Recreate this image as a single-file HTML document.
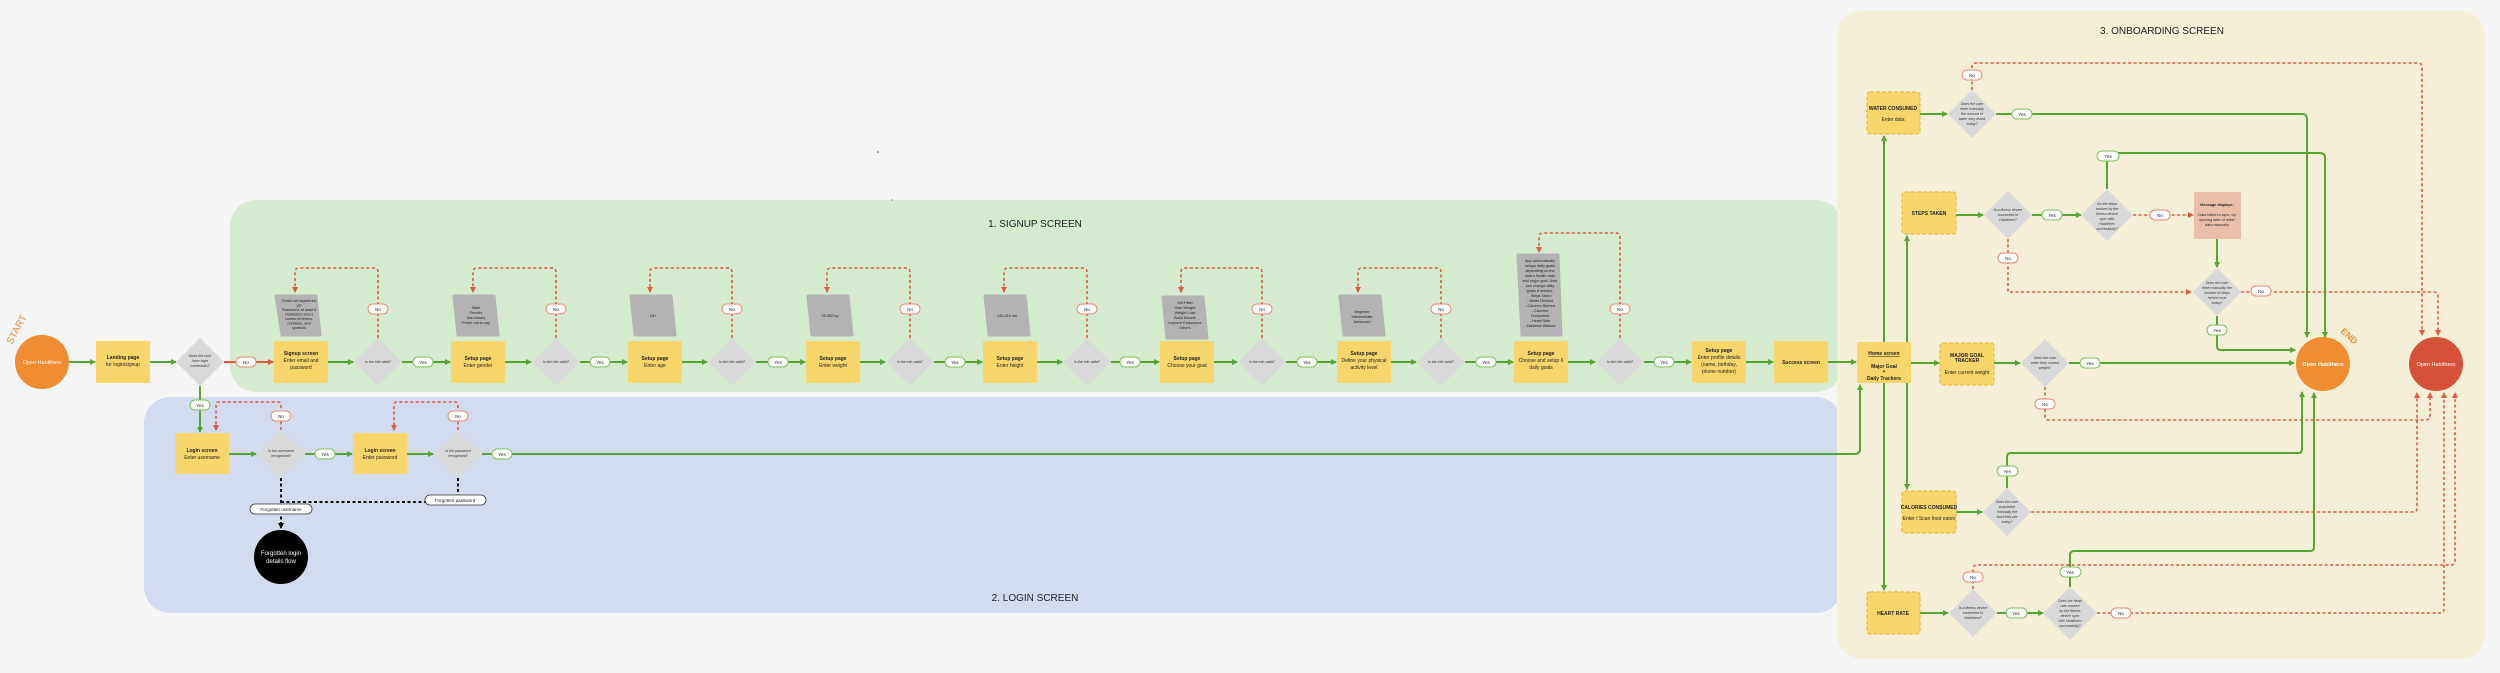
<!DOCTYPE html>
<html><head><meta charset="utf-8"><style>
html,body{margin:0;padding:0;background:#f5f5f5;}
svg{display:block;font-family:"Liberation Sans",sans-serif;}
.bt{font-size:5px;fill:#222;text-anchor:middle;}
.bb{font-weight:bold;}
.dt{font-size:3.6px;fill:#333;text-anchor:middle;font-style:italic;}
.pt{font-size:3.8px;fill:#222;text-anchor:middle;}
.lt{font-size:4.6px;fill:#222;text-anchor:middle;}
.g{stroke:#55a630;stroke-width:2;fill:none;}
.r{stroke:#e05a3f;stroke-width:1.6;fill:none;stroke-dasharray:3 2.5;}
.k{stroke:#111;stroke-width:2;fill:none;stroke-dasharray:3 2.5;}
.box{fill:#f9d66b;}
.dbox{fill:#f9d66b;stroke:#e6b84a;stroke-width:1.2;stroke-dasharray:4 2;}
.dia{fill:#d9d9d9;}
.para{fill:#b3b3b3;stroke:#b3b3b3;stroke-width:3;stroke-linejoin:round;}
.py{fill:#fff;stroke:#7cbf5a;stroke-width:1;}
.pn{fill:#fff;stroke:#e8866f;stroke-width:1;}
</style></head><body>
<svg width="2500" height="673" viewBox="0 0 2500 673" xmlns="http://www.w3.org/2000/svg">
<defs>
<marker id="ag" markerWidth="6" markerHeight="6" refX="5" refY="3" orient="auto" markerUnits="userSpaceOnUse"><path d="M0,0 L6,3 L0,6z" fill="#55a630"/></marker>
<marker id="ar" markerWidth="6" markerHeight="6" refX="5" refY="3" orient="auto" markerUnits="userSpaceOnUse"><path d="M0,0 L6,3 L0,6z" fill="#e05a3f"/></marker>
<marker id="ak" markerWidth="6" markerHeight="6" refX="5" refY="3" orient="auto" markerUnits="userSpaceOnUse"><path d="M0,0 L6,3 L0,6z" fill="#111"/></marker>
</defs>
<rect width="2500" height="673" fill="#f5f5f5"/>
<!-- regions -->
<rect x="230" y="200" width="1612" height="192" rx="26" fill="#d4ebd0"/>
<rect x="144" y="397" width="1698" height="216" rx="26" fill="#d3dbef"/>
<rect x="1837" y="11" width="648" height="648" rx="24" fill="#f6efd8"/>
<text x="1035" y="227" font-size="10" text-anchor="middle" fill="#222">1. SIGNUP SCREEN</text>
<text x="1035" y="601" font-size="10" text-anchor="middle" fill="#222">2. LOGIN SCREEN</text>
<text x="2162" y="34" font-size="10" text-anchor="middle" fill="#222">3. ONBOARDING SCREEN</text>
<circle cx="878" cy="152" r="0.8" fill="#555"/>
<circle cx="892" cy="200" r="0.8" fill="#e05a3f"/>

<!-- start -->
<text x="12" y="345" font-size="10" fill="#f08c32" transform="rotate(-62 12 345)">START</text>
<circle cx="42" cy="362" r="27" fill="#f08c32"/>
<text x="42" y="364" font-size="5.5" fill="#fff" text-anchor="middle">Open Habithero</text>
<line class="g" x1="69" y1="362" x2="95" y2="362" marker-end="url(#ag)"/>
<rect class="box" x="96" y="341" width="54" height="42"/>
<text class="bt bb" x="123" y="359">Landing page</text><text class="bt" x="123" y="366">for login/signup</text>
<line class="g" x1="150" y1="362" x2="176" y2="362" marker-end="url(#ag)"/>
<polygon class="dia" points="200,338 224,362 200,386 176,362"/>
<text class="dt" x="200" y="357">Does the user</text><text class="dt" x="200" y="362">have login</text><text class="dt" x="200" y="367">credentials?</text>
<line x1="224" y1="362" x2="273" y2="362" stroke="#e05a3f" stroke-width="2" marker-end="url(#ar)"/>
<rect class="pn" x="236" y="357" width="20" height="10" rx="5"/><text class="lt" x="246" y="364">No</text>

<!-- signup boxes -->
<g>
<rect class="box" x="274" y="341" width="54" height="42"/>
<text class="bt bb" x="301" y="355">Signup screen</text><text class="bt" x="301" y="362">Enter email and</text><text class="bt" x="301" y="369">password</text>
<rect class="box" x="451" y="341" width="54" height="42"/>
<text class="bt bb" x="478" y="360">Setup page</text><text class="bt" x="478" y="367">Enter gender</text>
<rect class="box" x="628" y="341" width="54" height="42"/>
<text class="bt bb" x="655" y="360">Setup page</text><text class="bt" x="655" y="367">Enter age</text>
<rect class="box" x="806" y="341" width="54" height="42"/>
<text class="bt bb" x="833" y="360">Setup page</text><text class="bt" x="833" y="367">Enter weight</text>
<rect class="box" x="983" y="341" width="54" height="42"/>
<text class="bt bb" x="1010" y="360">Setup page</text><text class="bt" x="1010" y="367">Enter height</text>
<rect class="box" x="1160" y="341" width="54" height="42"/>
<text class="bt bb" x="1187" y="360">Setup page</text><text class="bt" x="1187" y="367">Choose your goal</text>
<rect class="box" x="1337" y="341" width="54" height="42"/>
<text class="bt bb" x="1364" y="355">Setup page</text><text class="bt" x="1364" y="362">Define your physical</text><text class="bt" x="1364" y="369">activity level</text>
<rect class="box" x="1514" y="341" width="54" height="42"/>
<text class="bt bb" x="1541" y="355">Setup page</text><text class="bt" x="1541" y="362">Choose and setup 6</text><text class="bt" x="1541" y="369">daily goals</text>
<rect class="box" x="1692" y="341" width="54" height="42"/>
<text class="bt bb" x="1719" y="352">Setup page</text><text class="bt" x="1719" y="359">Enter profile details</text><text class="bt" x="1719" y="366">(name, birthday,</text><text class="bt" x="1719" y="373">phone number)</text>
<rect class="box" x="1774" y="341" width="54" height="42"/>
<text class="bt bb" x="1801" y="364">Success screen</text>
</g>

<!-- diamonds + yes -->
<g>
<polygon class="dia" points="378,338 402,362 378,386 354,362"/><text class="dt" x="378" y="363">Is the info valid?</text>
<polygon class="dia" points="556,338 580,362 556,386 532,362"/><text class="dt" x="556" y="363">Is the info valid?</text>
<polygon class="dia" points="732,338 756,362 732,386 708,362"/><text class="dt" x="732" y="363">Is the info valid?</text>
<polygon class="dia" points="910,338 934,362 910,386 886,362"/><text class="dt" x="910" y="363">Is the info valid?</text>
<polygon class="dia" points="1087,338 1111,362 1087,386 1063,362"/><text class="dt" x="1087" y="363">Is the info valid?</text>
<polygon class="dia" points="1262,338 1286,362 1262,386 1238,362"/><text class="dt" x="1262" y="363">Is the info valid?</text>
<polygon class="dia" points="1441,338 1465,362 1441,386 1417,362"/><text class="dt" x="1441" y="363">Is the info valid?</text>
<polygon class="dia" points="1620,338 1644,362 1620,386 1596,362"/><text class="dt" x="1620" y="363">Is the info valid?</text>
</g>
<g>
<line class="g" x1="328" y1="362" x2="353" y2="362" marker-end="url(#ag)"/><line class="g" x1="402" y1="362" x2="450" y2="362" marker-end="url(#ag)"/>
<line class="g" x1="505" y1="362" x2="531" y2="362" marker-end="url(#ag)"/><line class="g" x1="580" y1="362" x2="627" y2="362" marker-end="url(#ag)"/>
<line class="g" x1="682" y1="362" x2="707" y2="362" marker-end="url(#ag)"/><line class="g" x1="756" y1="362" x2="805" y2="362" marker-end="url(#ag)"/>
<line class="g" x1="860" y1="362" x2="885" y2="362" marker-end="url(#ag)"/><line class="g" x1="934" y1="362" x2="982" y2="362" marker-end="url(#ag)"/>
<line class="g" x1="1037" y1="362" x2="1062" y2="362" marker-end="url(#ag)"/><line class="g" x1="1111" y1="362" x2="1159" y2="362" marker-end="url(#ag)"/>
<line class="g" x1="1214" y1="362" x2="1237" y2="362" marker-end="url(#ag)"/><line class="g" x1="1286" y1="362" x2="1336" y2="362" marker-end="url(#ag)"/>
<line class="g" x1="1391" y1="362" x2="1416" y2="362" marker-end="url(#ag)"/><line class="g" x1="1465" y1="362" x2="1513" y2="362" marker-end="url(#ag)"/>
<line class="g" x1="1568" y1="362" x2="1595" y2="362" marker-end="url(#ag)"/><line class="g" x1="1644" y1="362" x2="1691" y2="362" marker-end="url(#ag)"/>
<line class="g" x1="1746" y1="362" x2="1773" y2="362" marker-end="url(#ag)"/><line class="g" x1="1828" y1="362" x2="1856" y2="362" marker-end="url(#ag)"/>
</g>
<g>
<rect class="py" x="413" y="357" width="20" height="10" rx="5"/><text class="lt" x="423" y="364">Yes</text>
<rect class="py" x="590" y="357" width="20" height="10" rx="5"/><text class="lt" x="600" y="364">Yes</text>
<rect class="py" x="768" y="357" width="20" height="10" rx="5"/><text class="lt" x="778" y="364">Yes</text>
<rect class="py" x="945" y="357" width="20" height="10" rx="5"/><text class="lt" x="955" y="364">Yes</text>
<rect class="py" x="1120" y="357" width="20" height="10" rx="5"/><text class="lt" x="1130" y="364">Yes</text>
<rect class="py" x="1297" y="357" width="20" height="10" rx="5"/><text class="lt" x="1307" y="364">Yes</text>
<rect class="py" x="1476" y="357" width="20" height="10" rx="5"/><text class="lt" x="1486" y="364">Yes</text>
<rect class="py" x="1654" y="357" width="20" height="10" rx="5"/><text class="lt" x="1664" y="364">Yes</text>
</g>

<!-- loops -->
<g>
<path class="r" d="M378,338 V272 Q378,268 374,268 H299 Q295,268 295,272 V292" marker-end="url(#ar)"/>
<path class="r" d="M556,338 V272 Q556,268 552,268 H477 Q473,268 473,272 V292" marker-end="url(#ar)"/>
<path class="r" d="M732,338 V272 Q732,268 728,268 H654 Q650,268 650,272 V292" marker-end="url(#ar)"/>
<path class="r" d="M910,338 V272 Q910,268 906,268 H831 Q827,268 827,272 V292" marker-end="url(#ar)"/>
<path class="r" d="M1087,338 V272 Q1087,268 1083,268 H1008 Q1004,268 1004,272 V292" marker-end="url(#ar)"/>
<path class="r" d="M1262,338 V272 Q1262,268 1258,268 H1185 Q1181,268 1181,272 V292" marker-end="url(#ar)"/>
<path class="r" d="M1441,338 V272 Q1441,268 1437,268 H1362 Q1358,268 1358,272 V292" marker-end="url(#ar)"/>
<path class="r" d="M1620,338 V237 Q1620,233 1616,233 H1543 Q1539,233 1539,237 V252" marker-end="url(#ar)"/>
</g>
<g>
<rect class="pn" x="368" y="304" width="20" height="10" rx="5"/><text class="lt" x="378" y="311">No</text>
<rect class="pn" x="546" y="304" width="20" height="10" rx="5"/><text class="lt" x="556" y="311">No</text>
<rect class="pn" x="722" y="304" width="20" height="10" rx="5"/><text class="lt" x="732" y="311">No</text>
<rect class="pn" x="900" y="304" width="20" height="10" rx="5"/><text class="lt" x="910" y="311">No</text>
<rect class="pn" x="1077" y="304" width="20" height="10" rx="5"/><text class="lt" x="1087" y="311">No</text>
<rect class="pn" x="1252" y="304" width="20" height="10" rx="5"/><text class="lt" x="1262" y="311">No</text>
<rect class="pn" x="1431" y="304" width="20" height="10" rx="5"/><text class="lt" x="1441" y="311">No</text>
<rect class="pn" x="1610" y="304" width="20" height="10" rx="5"/><text class="lt" x="1620" y="311">No</text>
</g>
<!-- parallelograms -->
<g>
<polygon class="para" points="276,296 316,296 320,335 282,335"/>
<text class="pt" x="299" y="302">Email not registered</text><text class="pt" x="299" y="306.5">yet</text><text class="pt" x="299" y="311">Password: at least 8</text><text class="pt" x="299" y="315.5">characters and a</text><text class="pt" x="299" y="320">combo of letters,</text><text class="pt" x="299" y="324.5">numbers, and</text><text class="pt" x="299" y="329">symbols</text>
<polygon class="para" points="454,296 494,296 498,335 458,335"/>
<text class="pt" x="476" y="309">Male</text><text class="pt" x="476" y="314">Female</text><text class="pt" x="476" y="319">Non-binary</text><text class="pt" x="476" y="324">Prefer not to say</text>
<polygon class="para" points="631,296 671,296 675,335 635,335"/><text class="pt" x="653" y="317">18+</text>
<polygon class="para" points="808,296 848,296 852,335 812,335"/><text class="pt" x="830" y="317">35-300 kg</text>
<polygon class="para" points="985,296 1025,296 1029,335 989,335"/><text class="pt" x="1007" y="317">140-210 cm</text>
<polygon class="para" points="1163,297 1203,297 1207,338 1167,338"/>
<text class="pt" x="1185" y="304">Get Fitter</text><text class="pt" x="1185" y="309">Gain Weight</text><text class="pt" x="1185" y="314">Weight Loss</text><text class="pt" x="1185" y="319">Build Muscle</text><text class="pt" x="1185" y="324">Improve Endurance</text><text class="pt" x="1185" y="329">Others</text>
<polygon class="para" points="1340,296 1380,296 1384,335 1344,335"/>
<text class="pt" x="1362" y="313">Beginner</text><text class="pt" x="1362" y="318">Intermediate</text><text class="pt" x="1362" y="323">Advanced</text>
<polygon class="para" points="1518,255 1558,255 1561,335 1522,335"/>
<text class="pt" x="1540" y="262">App automatically</text><text class="pt" x="1540" y="267">setups daily goals</text><text class="pt" x="1540" y="272">depending on the</text><text class="pt" x="1540" y="277">user's health data</text><text class="pt" x="1540" y="282">and major goal. User</text><text class="pt" x="1540" y="287">can change daily</text><text class="pt" x="1540" y="292">goals if needed.</text><text class="pt" x="1540" y="297">- Steps Taken</text><text class="pt" x="1540" y="302">- Water Drinked</text><text class="pt" x="1540" y="307">- Calories Burned</text><text class="pt" x="1540" y="312">- Calories</text><text class="pt" x="1540" y="317">Consumed</text><text class="pt" x="1540" y="322">- Heart Rate</text><text class="pt" x="1540" y="327">- Distance Walked</text>
</g>

<!-- login -->
<line class="g" x1="200" y1="386" x2="200" y2="432" marker-end="url(#ag)"/>
<rect class="py" x="190" y="400" width="20" height="10" rx="5"/><text class="lt" x="200" y="407">Yes</text>
<rect class="box" x="175" y="433" width="54" height="41"/>
<text class="bt bb" x="202" y="452">Login screen</text><text class="bt" x="202" y="459">Enter username</text>
<line class="g" x1="229" y1="454" x2="256" y2="454" marker-end="url(#ag)"/>
<polygon class="dia" points="281,430 305,454 281,478 257,454"/>
<text class="dt" x="281" y="452">Is the username</text><text class="dt" x="281" y="457">recognised?</text>
<path class="r" d="M281,430 V405 Q281,402 278,402 H219 Q216,402 216,405 V430" marker-end="url(#ar)"/>
<rect class="pn" x="271" y="411" width="20" height="10" rx="5"/><text class="lt" x="281" y="418">No</text>
<line class="g" x1="305" y1="454" x2="352" y2="454" marker-end="url(#ag)"/>
<rect class="py" x="315" y="449" width="20" height="10" rx="5"/><text class="lt" x="325" y="456">Yes</text>
<rect class="box" x="353" y="433" width="54" height="41"/>
<text class="bt bb" x="380" y="452">Login screen</text><text class="bt" x="380" y="459">Enter password</text>
<line class="g" x1="407" y1="454" x2="433" y2="454" marker-end="url(#ag)"/>
<polygon class="dia" points="458,430 482,454 458,478 434,454"/>
<text class="dt" x="458" y="452">Is the password</text><text class="dt" x="458" y="457">recognised?</text>
<path class="r" d="M458,430 V405 Q458,402 455,402 H397 Q394,402 394,405 V430" marker-end="url(#ar)"/>
<rect class="pn" x="448" y="411" width="20" height="10" rx="5"/><text class="lt" x="458" y="418">No</text>
<path class="g" d="M482,454 H1855 Q1860,454 1860,449 V385" marker-end="url(#ag)"/>
<rect class="py" x="492" y="449" width="20" height="10" rx="5"/><text class="lt" x="502" y="456">Yes</text>
<path class="k" d="M458,478 V502 H281"/>
<path class="k" d="M281,478 V528" marker-end="url(#ak)"/>
<rect x="250" y="504" width="62" height="10" rx="5" fill="#fff" stroke="#333" stroke-width="0.8"/><text class="lt" x="281" y="511">Forgotten username</text>
<rect x="425" y="495" width="61" height="10" rx="5" fill="#fff" stroke="#333" stroke-width="0.8"/><text class="lt" x="455" y="502">Forgotten password</text>
<ellipse cx="281" cy="557" rx="27" ry="27" fill="#000"/>
<text x="281" y="555" font-size="6" fill="#fff" text-anchor="middle">Forgotten login</text><text x="281" y="563" font-size="6" fill="#fff" text-anchor="middle">details flow</text>

<!-- onboarding -->
<rect class="box" x="1857" y="342" width="54" height="41"/>
<text class="bt bb" x="1884" y="355" text-decoration="underline">Home screen</text><text class="bt bb" x="1884" y="368">Major Goal</text><text class="bt bb" x="1884" y="373">+</text><text class="bt bb" x="1884" y="380">Daily Trackers</text>
<line class="g" x1="1884" y1="342" x2="1884" y2="136" marker-end="url(#ag)"/>
<line class="g" x1="1884" y1="383" x2="1884" y2="590" marker-end="url(#ag)"/>
<line class="g" x1="1907" y1="342" x2="1907" y2="236" marker-end="url(#ag)"/>
<line class="g" x1="1907" y1="383" x2="1907" y2="489" marker-end="url(#ag)"/>
<line class="g" x1="1911" y1="363" x2="1939" y2="363" marker-end="url(#ag)"/>

<!-- water -->
<rect class="dbox" x="1867" y="92" width="53" height="42" rx="3"/>
<text class="bt bb" x="1893" y="110" font-size="4.2">WATER CONSUMED</text><text class="bt" x="1893" y="121" font-size="4.2">Enter data</text>
<line class="g" x1="1920" y1="114" x2="1947" y2="114" marker-end="url(#ag)"/>
<polygon class="dia" points="1972,90 1996,114 1972,138 1948,114"/>
<text class="dt" x="1972" y="105">Does the user</text><text class="dt" x="1972" y="110">enter manually</text><text class="dt" x="1972" y="115">the amount of</text><text class="dt" x="1972" y="120">water they drank</text><text class="dt" x="1972" y="125">today?</text>
<path class="g" d="M1996,114 H2302 Q2307,114 2307,119 V337" marker-end="url(#ag)"/>
<rect class="py" x="2012" y="109" width="20" height="10" rx="5"/><text class="lt" x="2022" y="116">Yes</text>
<path class="r" d="M1972,90 V67 Q1972,63 1976,63 H2418 Q2422,63 2422,67 V335" marker-end="url(#ar)"/>
<rect class="pn" x="1962" y="70" width="20" height="10" rx="5"/><text class="lt" x="1972" y="77">No</text>

<!-- steps -->
<rect class="dbox" x="1902" y="192" width="54" height="42" rx="3"/>
<text class="bt bb" x="1929" y="215" font-size="4.2">STEPS TAKEN</text>
<line class="g" x1="1956" y1="215" x2="1983" y2="215" marker-end="url(#ag)"/>
<polygon class="dia" points="2008,191 2032,215 2008,239 1984,215"/>
<text class="dt" x="2008" y="211">Is a fitness device</text><text class="dt" x="2008" y="216">connected to</text><text class="dt" x="2008" y="221">Habithero?</text>
<line class="g" x1="2032" y1="215" x2="2081" y2="215" marker-end="url(#ag)"/>
<rect class="py" x="2042" y="210" width="20" height="10" rx="5"/><text class="lt" x="2052" y="217">Yes</text>
<polygon class="dia" points="2107,189 2133,215 2107,241 2081,215"/>
<text class="dt" x="2107" y="205">Do the steps</text><text class="dt" x="2107" y="210">tracked by the</text><text class="dt" x="2107" y="215">fitness device</text><text class="dt" x="2107" y="220">sync with</text><text class="dt" x="2107" y="225">Habithero</text><text class="dt" x="2107" y="230">successfully?</text>
<path class="g" d="M2107,189 V153 H2320 Q2325,153 2325,158 V337" marker-end="url(#ag)"/>
<rect class="py" x="2097" y="151" width="22" height="10" rx="5"/><text class="lt" x="2108" y="158">Yes</text>
<path class="r" d="M2133,215 H2193" marker-end="url(#ar)"/>
<rect class="pn" x="2150" y="210" width="20" height="10" rx="5"/><text class="lt" x="2160" y="217">No</text>
<rect x="2194" y="192" width="47" height="47" fill="#ebbea8"/>
<text class="pt bb" x="2217" y="206">Message displays:</text><text class="pt" x="2217" y="216">Data failed to sync, try</text><text class="pt" x="2217" y="221">syncing later or enter</text><text class="pt" x="2217" y="226">data manually</text>
<line class="g" x1="2217" y1="239" x2="2217" y2="267" marker-end="url(#ag)"/>
<polygon class="dia" points="2217,268 2241,292 2217,316 2193,292"/>
<text class="dt" x="2217" y="284">Does the user</text><text class="dt" x="2217" y="289">enter manually the</text><text class="dt" x="2217" y="294">number of steps</text><text class="dt" x="2217" y="299">he/she took</text><text class="dt" x="2217" y="304">today?</text>
<path class="r" d="M2008,239 V292 H2191" marker-end="url(#ar)"/>
<rect class="pn" x="1998" y="253" width="20" height="10" rx="5"/><text class="lt" x="2008" y="260">No</text>
<path class="r" d="M2241,292 H2434 Q2438,292 2438,296 V335" marker-end="url(#ar)"/>
<rect class="pn" x="2251" y="286" width="20" height="10" rx="5"/><text class="lt" x="2261" y="293">No</text>
<path class="g" d="M2217,316 V346 Q2217,350 2221,350 H2295" marker-end="url(#ag)"/>
<rect class="py" x="2207" y="325" width="20" height="10" rx="5"/><text class="lt" x="2217" y="332">Yes</text>

<!-- major goal -->
<rect class="dbox" x="1940" y="343" width="54" height="42" rx="3"/>
<text class="bt bb" x="1967" y="357" font-size="4.2">MAJOR GOAL</text><text class="bt bb" x="1967" y="362" font-size="4.2">TRACKER</text><text class="bt" x="1967" y="374" font-size="4.2">Enter current weight</text>
<line class="g" x1="1994" y1="363" x2="2020" y2="363" marker-end="url(#ag)"/>
<polygon class="dia" points="2045,339 2069,363 2045,387 2021,363"/>
<text class="dt" x="2045" y="359">Does the user</text><text class="dt" x="2045" y="364">enter their current</text><text class="dt" x="2045" y="369">weight?</text>
<line class="g" x1="2069" y1="363" x2="2294" y2="363" marker-end="url(#ag)"/>
<rect class="py" x="2080" y="358" width="20" height="10" rx="5"/><text class="lt" x="2090" y="365">Yes</text>
<path class="r" d="M2045,387 V416 Q2045,420 2049,420 H2426 Q2430,420 2430,416 V393" marker-end="url(#ar)"/>
<rect class="pn" x="2035" y="399" width="20" height="10" rx="5"/><text class="lt" x="2045" y="406">No</text>

<!-- calories -->
<rect class="dbox" x="1902" y="491" width="54" height="42" rx="3"/>
<text class="bt bb" x="1929" y="509" font-size="4.2">CALORIES CONSUMED</text><text class="bt" x="1929" y="520" font-size="4.2">Enter / Scan food eaten</text>
<line class="g" x1="1956" y1="512" x2="1982" y2="512" marker-end="url(#ag)"/>
<polygon class="dia" points="2007,488 2031,512 2007,536 1983,512"/>
<text class="dt" x="2007" y="503">Does the user</text><text class="dt" x="2007" y="508">scan/enter</text><text class="dt" x="2007" y="513">manually the</text><text class="dt" x="2007" y="518">food they ate</text><text class="dt" x="2007" y="523">today?</text>
<path class="g" d="M2007,488 V457 Q2007,453 2011,453 H2298 Q2302,453 2302,449 V392" marker-end="url(#ag)"/>
<rect class="py" x="1997" y="466" width="21" height="10" rx="5"/><text class="lt" x="2007" y="473">Yes</text>
<path class="r" d="M2031,512 H2413 Q2417,512 2417,508 V393" marker-end="url(#ar)"/>

<!-- heart rate -->
<rect class="dbox" x="1867" y="592" width="53" height="42" rx="3"/>
<text class="bt bb" x="1893" y="615" font-size="4.2">HEART RATE</text>
<line class="g" x1="1920" y1="613" x2="1948" y2="613" marker-end="url(#ag)"/>
<polygon class="dia" points="1973,589 1997,613 1973,637 1949,613"/>
<text class="dt" x="1973" y="609">Is a fitness device</text><text class="dt" x="1973" y="614">connected to</text><text class="dt" x="1973" y="619">Habithero?</text>
<line class="g" x1="1997" y1="613" x2="2043" y2="613" marker-end="url(#ag)"/>
<rect class="py" x="2006" y="608" width="21" height="10" rx="5"/><text class="lt" x="2016" y="615">Yes</text>
<polygon class="dia" points="2070,587 2097,613 2070,640 2043,613"/>
<text class="dt" x="2070" y="602">Does the heart</text><text class="dt" x="2070" y="607">rate tracked</text><text class="dt" x="2070" y="612">by the fitness</text><text class="dt" x="2070" y="617">device sync</text><text class="dt" x="2070" y="622">with Habithero</text><text class="dt" x="2070" y="627">successfully?</text>
<path class="g" d="M2070,587 V555 Q2070,551 2074,551 H2310 Q2314,551 2314,547 V393" marker-end="url(#ag)"/>
<rect class="py" x="2060" y="567" width="21" height="10" rx="5"/><text class="lt" x="2070" y="574">Yes</text>
<path class="r" d="M1973,589 V569 Q1973,565 1977,565 H2451 Q2455,565 2455,561 V393" marker-end="url(#ar)"/>
<rect class="pn" x="1963" y="572" width="20" height="10" rx="5"/><text class="lt" x="1973" y="579">No</text>
<path class="r" d="M2097,613 H2440 Q2444,613 2444,609 V393" marker-end="url(#ar)"/>
<rect class="pn" x="2111" y="608" width="20" height="10" rx="5"/><text class="lt" x="2121" y="615">No</text>

<!-- end circles -->
<circle cx="2323" cy="364" r="27" fill="#f08c32"/>
<text x="2323" y="366" font-size="5.5" fill="#fff" text-anchor="middle" font-weight="bold">Open Habithero</text>
<text x="2340" y="332" font-size="9" fill="#f08c32" font-weight="bold" transform="rotate(42 2340 332)">END</text>
<circle cx="2436" cy="364" r="27" fill="#d6523a"/>
<text x="2436" y="366" font-size="5.5" fill="#fff" text-anchor="middle">Open Habithero</text>
</svg>
</body></html>
